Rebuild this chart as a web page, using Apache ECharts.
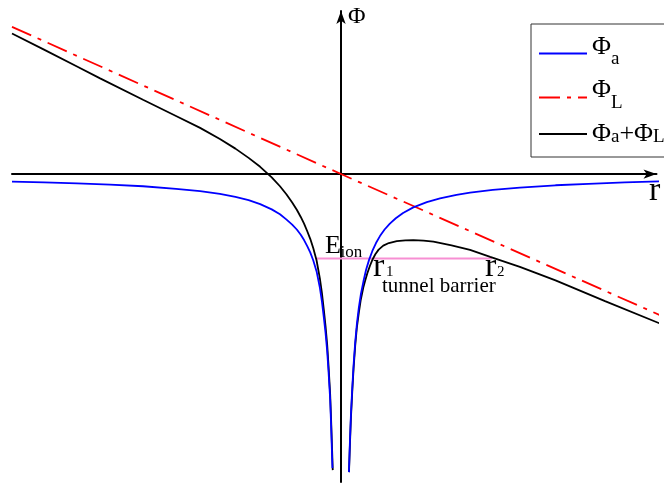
<!DOCTYPE html>
<html>
<head>
<meta charset="utf-8">
<script src="https://cdn.jsdelivr.net/npm/echarts@6/dist/echarts.min.js"></script>
<style>
  html, body { margin: 0; padding: 0; background: #fff; }
  #chartArea { width: 664px; height: 483px; }
</style>
</head>
<body>
<div id="chartArea"></div>
<script>
// values, in arbitrary units (r, Phi)
let blueLeft = [[-9.97, -0.23], [-9.0, -0.25], [-8.0, -0.28], [-7.0, -0.32], [-6.0, -0.37], [-5.0, -0.45],
    [-4.27, -0.52], [-3.67, -0.60], [-3.2, -0.69], [-2.8, -0.79], [-2.45, -0.91], [-2.1, -1.07], [-1.85, -1.22],
    [-1.65, -1.38], [-1.48, -1.53], [-1.34, -1.68], [-1.22, -1.84], [-1.12, -2.00], [-1.02, -2.19], [-0.93, -2.38],
    [-0.84, -2.62], [-0.74, -2.95], [-0.64, -3.45], [-0.58, -3.85], [-0.52, -4.35], [-0.47, -4.80], [-0.42, -5.35],
    [-0.38, -5.95], [-0.33, -6.80], [-0.30, -7.60], [-0.26, -8.91]];
let blueRight = [[0.24, -9.03], [0.27, -8.10], [0.30, -7.30], [0.34, -6.50], [0.38, -5.80], [0.43, -5.10],
    [0.48, -4.55], [0.54, -4.05], [0.60, -3.65], [0.68, -3.25], [0.76, -2.90], [0.85, -2.60], [0.95, -2.33],
    [1.06, -2.09], [1.18, -1.88], [1.32, -1.68], [1.48, -1.50], [1.66, -1.34], [1.88, -1.18], [2.19, -1.01],
    [2.6, -0.85], [3.0, -0.74], [3.5, -0.63], [3.91, -0.56], [4.6, -0.48], [5.42, -0.41], [6.5, -0.34],
    [7.5, -0.295], [8.6, -0.255], [9.79, -0.215]];
let blackLeft = [[-9.97, 4.26], [-9.0, 3.77], [-8.0, 3.26], [-7.3, 2.90], [-6.0, 2.25], [-5.0, 1.76], [-4.27, 1.40],
    [-3.67, 1.06], [-3.2, 0.77], [-2.8, 0.49], [-2.45, 0.22], [-2.1, -0.10], [-1.85, -0.37], [-1.65, -0.62],
    [-1.48, -0.86], [-1.34, -1.08], [-1.22, -1.30], [-1.12, -1.50], [-1.02, -1.74], [-0.93, -1.97], [-0.84, -2.25],
    [-0.74, -2.62], [-0.64, -3.17], [-0.58, -3.59], [-0.52, -4.12], [-0.47, -4.60], [-0.42, -5.16], [-0.38, -5.78],
    [-0.33, -6.65], [-0.30, -7.45], [-0.25, -8.97]];
let blackRight = [[0.242, -9.03], [0.27, -8.20], [0.30, -7.40], [0.34, -6.60], [0.38, -5.90], [0.43, -5.20],
    [0.48, -4.65], [0.54, -4.20], [0.60, -3.80], [0.68, -3.42], [0.727, -3.25], [0.80, -3.00], [0.88, -2.77],
    [0.96, -2.58], [1.04, -2.43], [1.14, -2.29], [1.28, -2.17], [1.45, -2.09], [1.69, -2.035], [1.95, -2.01],
    [2.19, -2.00], [2.5, -2.02], [2.8, -2.05], [3.35, -2.16], [3.91, -2.30], [4.52, -2.51], [5.42, -2.81],
    [6.5, -3.22], [8.0, -3.85], [9.79, -4.58]];
let redLine = [[-9.97, 4.46], [0, 0], [9.79, -4.33]];
let ionLine = [[-0.74, -2.555], [4.57, -2.555]];

let serif = "'Liberation Serif', 'Times New Roman', serif";
let myChart = echarts.init(document.getElementById('chartArea'));

function curve(name, data, color, extra) {
    let s = {
        name: name,
        type: 'line',
        data: data,
        symbol: 'none',
        clip: false,
        smooth: false,
        lineStyle: {color: color, width: 1.8},
        itemStyle: {color: color},
        emphasis: {disabled: true}
    };
    return Object.assign(s, extra || {});
}

function txt(text, x, y, size) {
    return {
        type: 'text', x: x, y: y, silent: true,
        style: {text: text, fontFamily: serif, fontSize: size, fill: '#000', verticalAlign: 'middle'}
    };
}

let option = {
    animation: false,
    grid: {left: 12, right: 7.5, top: 11, bottom: 1},
    xAxis: {
        type: 'value', min: -9.97, max: 9.56,
        axisLine: {onZero: true, symbol: ['none', 'arrow'], symbolSize: [7, 13], lineStyle: {color: '#000', width: 2}},
        axisTick: {show: false}, axisLabel: {show: false}, splitLine: {show: false}
    },
    yAxis: {
        type: 'value', min: -9.33, max: 4.94,
        axisLine: {onZero: true, symbol: ['none', 'arrow'], symbolSize: [7, 13], lineStyle: {color: '#000', width: 2}},
        axisTick: {show: false}, axisLabel: {show: false}, splitLine: {show: false}
    },
    legend: {
        orient: 'vertical', left: 531, top: 24,
        selectedMode: false,
        itemWidth: 48, itemHeight: 14, itemGap: 8,
        padding: [10, 40, 10, 7],
        borderColor: '#333', borderWidth: 1, backgroundColor: '#fff',
        itemStyle: {opacity: 0},
        data: [
            {name: 'Pa', textStyle: {padding: [5, 0, 0, 0]}},
            {name: 'PL', textStyle: {padding: [5, 0, 0, 0]}},
            {name: 'Psum'}
        ],
        formatter: function (name) {
            if (name === 'Pa') return '{p1|Φ}{s|a}';
            if (name === 'PL') return '{p2|Φ}{s|L}';
            return '{p|Φ}{s|a}{p|+Φ}{s|L}';
        },
        textStyle: {
            fontFamily: serif,
            color: '#000',
            rich: {
                p: {fontFamily: serif, color: '#000', fontSize: 26, lineHeight: 26, verticalAlign: 'bottom'},
                p1: {fontFamily: serif, color: '#000', fontSize: 26, lineHeight: 26, verticalAlign: 'bottom', padding: [0, 0, 9, 0]},
                p2: {fontFamily: serif, color: '#000', fontSize: 26, lineHeight: 26, verticalAlign: 'bottom', padding: [0, 0, 10, 0]},
                s: {fontFamily: serif, color: '#000', fontSize: 19, lineHeight: 19, verticalAlign: 'bottom'}
            }
        }
    },
    graphic: [
        txt('Φ', 348, 16.8, 24),
        txt('r', 649, 191.5, 34),
        txt('E', 325, 246.2, 26),
        txt('ion', 340.5, 252.2, 17),
        txt('r', 373, 267, 34),
        txt('1', 386, 272.5, 15),
        txt('r', 485, 267, 34),
        txt('2', 497, 272.5, 15),
        txt('tunnel barrier', 382, 286.5, 21)
    ],
    series: [
        curve('ion', ionLine, '#f78fd3', {lineStyle: {color: '#f78fd3', width: 2}, z: 1}),
        curve('PL', redLine, '#ff0000', {lineStyle: {color: '#ff0000', width: 1.8, type: [21, 7, 4, 7]}, z: 2}),
        curve('Psum', blackLeft, '#000000', {z: 3}),
        curve('Psum', blackRight, '#000000', {z: 3}),
        curve('Pa', blueLeft, '#0000ff', {z: 4}),
        curve('Pa', blueRight, '#0000ff', {z: 4})
    ]
};

myChart.setOption(option);
</script>
</body>
</html>
